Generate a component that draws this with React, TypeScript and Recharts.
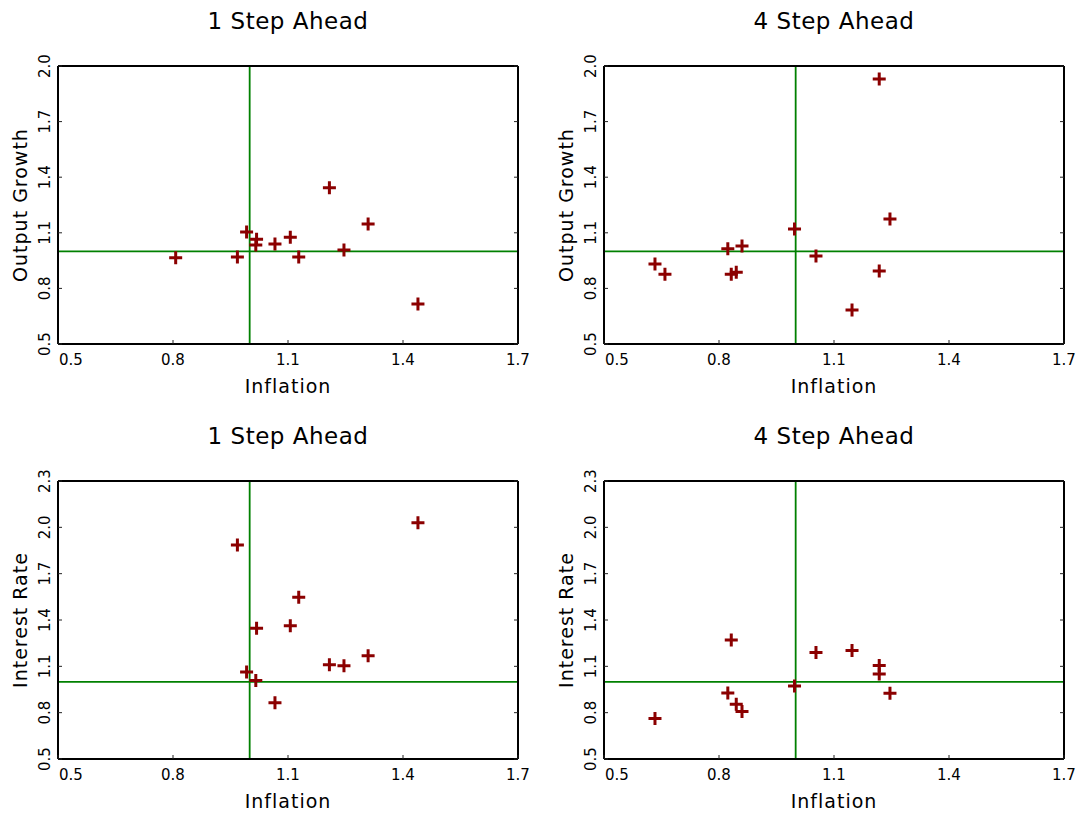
import React from "react";
import {
  ScatterChart,
  Scatter,
  XAxis,
  YAxis,
  ReferenceLine,
} from "recharts";

// inflation forecasts (x), shared by the two panels of each horizon
const inflation1 = [0.807, 0.968, 0.992, 1.018, 1.016, 1.066, 1.106, 1.128, 1.208, 1.246, 1.309, 1.439];
const growth1 = [0.966, 0.969, 1.104, 1.065, 1.034, 1.04, 1.076, 0.969, 1.343, 1.007, 1.148, 0.716];
const rate1 = [null, 1.885, 1.063, 1.346, 1.009, 0.865, 1.363, 1.548, 1.11, 1.104, 1.168, 2.029];

const inflation4 = [0.633, 0.659, 0.823, 0.832, 0.845, 0.86, 0.997, 1.053, 1.147, 1.218, 1.218, 1.246];
const growth4 = [0.932, 0.876, 1.014, 0.876, 0.887, 1.029, 1.121, 0.975, 0.683, 1.93, 0.894, 1.175];
const rate4 = [0.762, null, 0.927, 1.271, 0.854, 0.807, 0.972, 1.189, 1.202, 1.106, 1.05, 0.925];

const xTicks = [0.5, 0.8, 1.1, 1.4, 1.7];
const growthTicks = [0.5, 0.8, 1.1, 1.4, 1.7, 2.0];
const rateTicks = [0.5, 0.8, 1.1, 1.4, 1.7, 2.0, 2.3];

const FONT = "'DejaVu Sans', sans-serif";
const MARKER = "#8B0000";
const GUIDE = "#008000";

function toPoints(xs: number[], ys: (number | null)[]) {
  return xs
    .map((x, i) => ({ x, y: ys[i] }))
    .filter((p) => p.y !== null);
}

// eslint-disable-next-line @typescript-eslint/no-explicit-any
function PlusShape({ cx, cy }: any) {
  if (cx == null || cy == null) return null;
  return (
    <path
      d={`M${cx - 6.5},${cy}H${cx + 6.5}M${cx},${cy - 6.5}V${cy + 6.5}`}
      stroke={MARKER}
      strokeWidth={3}
      fill="none"
    />
  );
}

// eslint-disable-next-line @typescript-eslint/no-explicit-any
function BottomTick({ x, y, payload, index }: any) {
  const first = index === 0;
  return (
    <g>
      <line x1={x} x2={x} y1={y} y2={y - 4} stroke="#222" strokeWidth={1} />
      <text
        x={first ? x + 1 : x}
        y={y + 16}
        textAnchor={first ? "start" : "middle"}
        dominantBaseline="central"
        fontFamily={FONT}
        fontSize={15}
        fill="#000"
      >
        {Number(payload.value).toFixed(1)}
      </text>
    </g>
  );
}

// eslint-disable-next-line @typescript-eslint/no-explicit-any
function LeftTick({ x, y, payload }: any) {
  const tx = x - 13;
  return (
    <g>
      <line x1={x} x2={x + 4} y1={y} y2={y} stroke="#222" strokeWidth={1} />
      <text
        x={tx}
        y={y}
        transform={`rotate(-90, ${tx}, ${y})`}
        textAnchor="middle"
        dominantBaseline="central"
        fontFamily={FONT}
        fontSize={15}
        fill="#000"
      >
        {Number(payload.value).toFixed(1)}
      </text>
    </g>
  );
}

// eslint-disable-next-line @typescript-eslint/no-explicit-any
function TopTick({ x, y }: any) {
  return <line x1={x} x2={x} y1={y} y2={y + 4} stroke="#222" strokeWidth={1} />;
}

// eslint-disable-next-line @typescript-eslint/no-explicit-any
function RightTick({ x, y }: any) {
  return <line x1={x} x2={x - 4} y1={y} y2={y} stroke="#222" strokeWidth={1} />;
}

interface PanelProps {
  left: number;
  top: number;
  title: string;
  yLabel: string;
  yTicks: number[];
  data: { x: number; y: number | null }[];
}

const W = 540;
const H = 410;
const PL = 58;
const PT = 66;
const PW = 460;
const PH = 278;
const AX = 20; // room given to each axis

function Panel({ left, top, title, yLabel, yTicks, data }: PanelProps) {
  const yDomain = [yTicks[0], yTicks[yTicks.length - 1]];
  const axisLine = { stroke: "#000", strokeWidth: 2 };
  return (
    <div style={{ position: "absolute", left, top, width: W, height: H }}>
      <ScatterChart
        width={W}
        height={H}
        margin={{
          top: PT - AX,
          left: PL - AX,
          right: W - PL - PW - AX,
          bottom: H - PT - PH - AX,
        }}
      >
        <XAxis
          type="number"
          dataKey="x"
          domain={[0.5, 1.7]}
          ticks={xTicks}
          interval={0}
          allowDataOverflow
          height={AX}
          tickSize={0}
          tickMargin={0}
          axisLine={axisLine}
          tickLine={false}
          tick={<BottomTick />}
        />
        <XAxis
          xAxisId="top"
          orientation="top"
          type="number"
          domain={[0.5, 1.7]}
          ticks={xTicks}
          interval={0}
          allowDataOverflow
          height={AX}
          tickSize={0}
          tickMargin={0}
          axisLine={axisLine}
          tickLine={false}
          tick={<TopTick />}
        />
        <YAxis
          type="number"
          dataKey="y"
          domain={yDomain}
          ticks={yTicks}
          interval={0}
          allowDataOverflow
          width={AX}
          tickSize={0}
          tickMargin={0}
          axisLine={axisLine}
          tickLine={false}
          tick={<LeftTick />}
        />
        <YAxis
          yAxisId="right"
          orientation="right"
          type="number"
          domain={yDomain}
          ticks={yTicks}
          interval={0}
          allowDataOverflow
          width={AX}
          tickSize={0}
          tickMargin={0}
          axisLine={axisLine}
          tickLine={false}
          tick={<RightTick />}
        />
        <ReferenceLine x={1} stroke={GUIDE} strokeWidth={1.8} />
        <ReferenceLine y={1} stroke={GUIDE} strokeWidth={1.8} />
        <Scatter data={data} shape={<PlusShape />} isAnimationActive={false} />
      </ScatterChart>
      <div
        style={{
          position: "absolute",
          left: PL,
          width: PW,
          top: 7,
          textAlign: "center",
          fontFamily: FONT,
          fontSize: 23,
          letterSpacing: 0.5,
          lineHeight: "28px",
        }}
      >
        {title}
      </div>
      <div
        style={{
          position: "absolute",
          left: PL,
          width: PW,
          top: PT + PH + 30,
          textAlign: "center",
          fontFamily: FONT,
          fontSize: 19,
          letterSpacing: 1,
          lineHeight: "24px",
        }}
      >
        Inflation
      </div>
      <div
        style={{
          position: "absolute",
          left: 20 - PH / 2,
          top: PT + PH / 2 - 12,
          width: PH,
          textAlign: "center",
          transform: "rotate(-90deg)",
          fontFamily: FONT,
          fontSize: 19,
          letterSpacing: 1,
          lineHeight: "24px",
        }}
      >
        {yLabel}
      </div>
    </div>
  );
}

export default function App() {
  return (
    <div
      style={{
        position: "absolute",
        left: 0,
        top: 0,
        width: 1078,
        height: 816,
        background: "#fff",
      }}
    >
      <Panel
        left={0}
        top={0}
        title="1 Step Ahead"
        yLabel="Output Growth"
        yTicks={growthTicks}
        data={toPoints(inflation1, growth1)}
      />
      <Panel
        left={546}
        top={0}
        title="4 Step Ahead"
        yLabel="Output Growth"
        yTicks={growthTicks}
        data={toPoints(inflation4, growth4)}
      />
      <Panel
        left={0}
        top={415}
        title="1 Step Ahead"
        yLabel="Interest Rate"
        yTicks={rateTicks}
        data={toPoints(inflation1, rate1)}
      />
      <Panel
        left={546}
        top={415}
        title="4 Step Ahead"
        yLabel="Interest Rate"
        yTicks={rateTicks}
        data={toPoints(inflation4, rate4)}
      />
    </div>
  );
}
